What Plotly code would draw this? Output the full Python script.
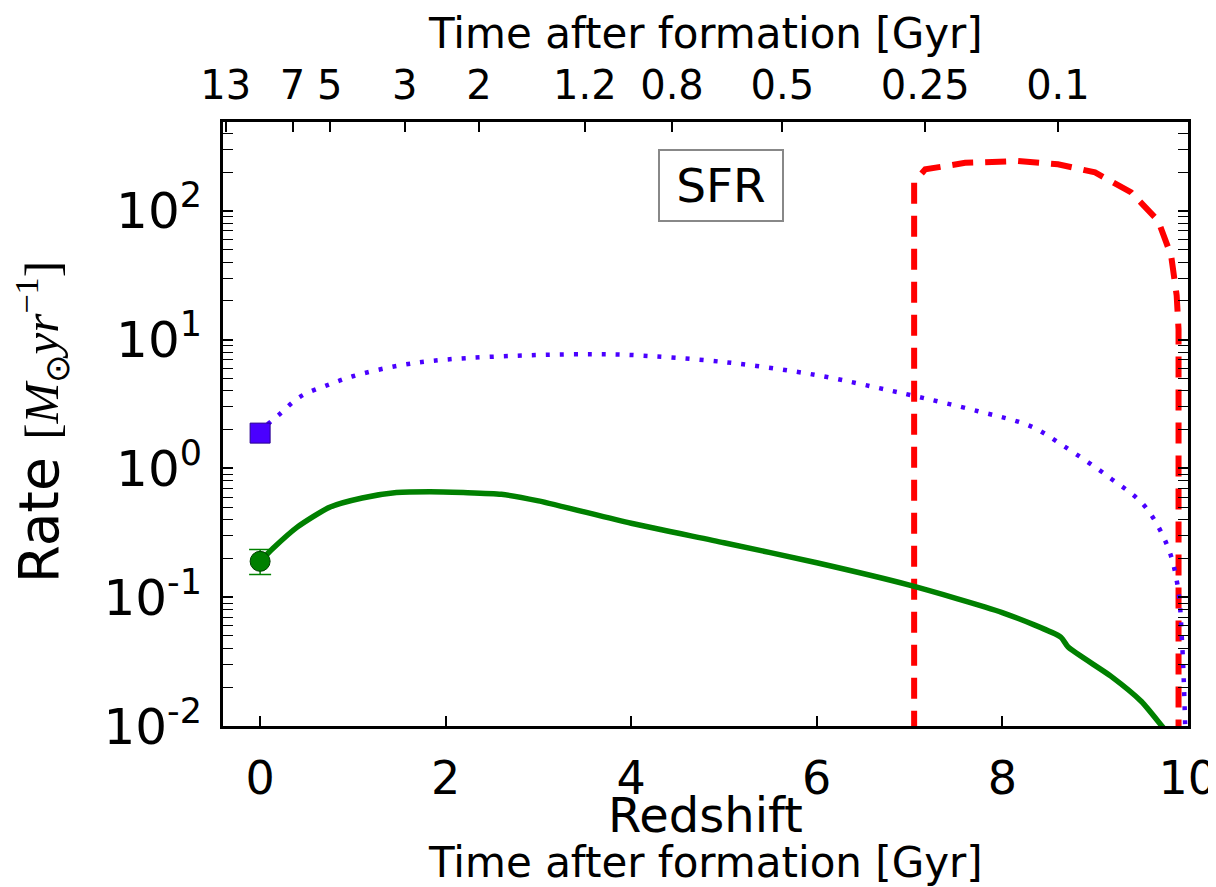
import plotly.graph_objects as go

# ---------------- data ----------------
green_z = [0.0, 0.14, 0.4, 0.75, 1.1, 1.47, 1.83, 2.19, 2.6, 3.0, 4.0, 5.0, 6.0, 7.0, 8.0, 8.63, 8.71, 9.17, 9.5, 9.72, 9.8]
green_v = [0.19, 0.24, 0.35, 0.50, 0.59, 0.65, 0.66, 0.65, 0.63, 0.56, 0.375, 0.265, 0.185, 0.124, 0.076, 0.049, 0.041, 0.0244, 0.0155, 0.0100, 0.0085]

blue_z = [0.08, 0.2, 0.43, 0.75, 1.0, 1.5, 2.0, 3.0, 3.6, 4.0, 5.0, 6.0, 6.74, 7.02, 7.74, 8.31, 8.67, 9.17, 9.53, 9.78, 9.89, 9.94, 9.98]
blue_v = [2.2, 2.6, 3.6, 4.5, 5.2, 6.3, 7.0, 7.6, 7.7, 7.6, 6.7, 5.3, 4.1, 3.7, 2.78, 2.12, 1.48, 0.836, 0.515, 0.25, 0.123, 0.042, 0.006]

red_z = [7.05, 7.05, 7.17, 7.6, 8.17, 8.6, 9.0, 9.39, 9.68, 9.82, 9.88, 9.9, 9.9]
red_v = [0.005, 167, 210, 236, 244, 230, 199, 139, 84, 45, 22, 12, 0.005]

green_point_z = [0.0]
green_point_v = [0.19]
green_err_plus = [0.045]
green_err_minus = [0.04]

blue_point_z = [0.0]
blue_point_v = [1.88]

top_tick_pos = [-0.37, 0.35, 0.75, 1.56, 2.36, 3.5, 4.44, 5.63, 7.17, 8.6]
top_tick_text = ["13", "7", "5", "3", "2", "1.2", "0.8", "0.5", "0.25", "0.1"]

x_ticks = [0, 2, 4, 6, 8, 10]
y_ticks = [0.01, 0.1, 1, 10, 100]
y_tick_text = ["10<sup>-2</sup>", "10<sup>-1</sup>", "10<sup>0</sup>", "10<sup>1</sup>", "10<sup>2</sup>"]

FONT = "DejaVu Sans"
BLUE = "#4a00ff"
GREEN = "#008000"
RED = "#ff0000"

fig = go.Figure()

fig.add_trace(go.Scatter(x=red_z, y=red_v, mode="lines",
                         line=dict(color=RED, width=6, dash="21px,12px"),
                         showlegend=False, hoverinfo="skip"))
fig.add_trace(go.Scatter(x=blue_z, y=blue_v, mode="lines", line_shape="spline",
                         line=dict(color=BLUE, width=4.5, dash="4px,10px"),
                         showlegend=False, hoverinfo="skip"))
fig.add_trace(go.Scatter(x=green_z, y=green_v, mode="lines", line_shape="spline",
                         line=dict(color=GREEN, width=5.5, smoothing=0.6),
                         showlegend=False, hoverinfo="skip"))
fig.add_trace(go.Scatter(x=green_point_z, y=green_point_v, mode="markers",
                         marker=dict(symbol="circle", size=20, color=GREEN,
                                     line=dict(color="#004000", width=1)),
                         error_y=dict(type="data", symmetric=False, array=green_err_plus,
                                      arrayminus=green_err_minus, color=GREEN,
                                      thickness=1.5, width=11),
                         showlegend=False, hoverinfo="skip"))
fig.add_trace(go.Scatter(x=blue_point_z, y=blue_point_v, mode="markers",
                         marker=dict(symbol="square", size=20, color=BLUE,
                                     line=dict(color="#2a0090", width=1)),
                         showlegend=False, hoverinfo="skip"))
# invisible trace to anchor the top axis
fig.add_trace(go.Scatter(x=[None], y=[None], xaxis="x2", yaxis="y",
                         showlegend=False, hoverinfo="skip"))

minor_vals = [k * 10.0 ** n for n in range(-2, 3) for k in range(2, 10)]

XR = [-0.4, 10.002]
SERIF = "Liberation Serif"

fig.update_layout(
    width=1208, height=879,
    margin=dict(l=215, r=28, t=114, b=161),
    paper_bgcolor="white", plot_bgcolor="white",
    font=dict(family=FONT, color="black"),
    xaxis=dict(range=XR, tickvals=x_ticks, ticks="inside", ticklen=10,
               tickwidth=1.5, tickcolor="black", showgrid=False, zeroline=False,
               showline=True, linecolor="black", linewidth=3, mirror=True,
               automargin=False, ticklabeloverflow="allow",
               tickfont=dict(size=46, family=FONT), ticklabelstandoff=10),
    xaxis2=dict(range=XR, overlaying="x", side="top", anchor="y",
                tickvals=top_tick_pos, ticktext=top_tick_text, ticks="inside",
                ticklen=10, tickwidth=1.5, tickcolor="black", showgrid=False,
                zeroline=False, showline=False, automargin=False,
                ticklabeloverflow="allow",
                tickfont=dict(size=40, family=FONT), ticklabelstandoff=14),
    yaxis=dict(type="log", range=[-2, 2.69], tickvals=y_ticks, ticktext=y_tick_text,
               ticks="inside", ticklen=10, tickwidth=1.5, tickcolor="black",
               showgrid=False, zeroline=False, showline=True, linecolor="black",
               linewidth=3, mirror="allticks", automargin=False,
               ticklabeloverflow="allow",
               tickfont=dict(size=50, family=FONT), ticklabelstandoff=8,
               minor=dict(tickvals=minor_vals, ticks="inside", ticklen=5,
                          tickwidth=1, tickcolor="black", showgrid=False)),
    annotations=[
        dict(text="SFR", x=4.97, y=2.2, xref="x", yref="y", showarrow=False,
             font=dict(size=47, family=FONT), bordercolor="#888888", borderwidth=2,
             borderpad=7, width=108, bgcolor="white"),
        dict(text="Redshift", x=0.5, y=-0.148, xref="paper", yref="paper",
             showarrow=False, yanchor="middle", font=dict(size=48, family=FONT)),
        dict(text="Time after formation [Gyr]", x=0.5, y=-0.226, xref="paper", yref="paper",
             showarrow=False, yanchor="middle", font=dict(size=42, family=FONT)),
        dict(text="Time after formation [Gyr]", x=0.5, y=1.147, xref="paper", yref="paper",
             showarrow=False, yanchor="middle", font=dict(size=42, family=FONT)),
        dict(text=("Rate <span style='font-family:" + SERIF + ";font-size:49px'>[<i>M</i><sub>⊙</sub>"
                   "<i>yr</i><sup>−1</sup>]</span>"),
             x=-0.188, y=0.502,
             xref="paper", yref="paper", showarrow=False, textangle=-90,
             xanchor="center", yanchor="middle", font=dict(size=55, family=FONT)),
    ],
)

fig.write_html("out.html")
